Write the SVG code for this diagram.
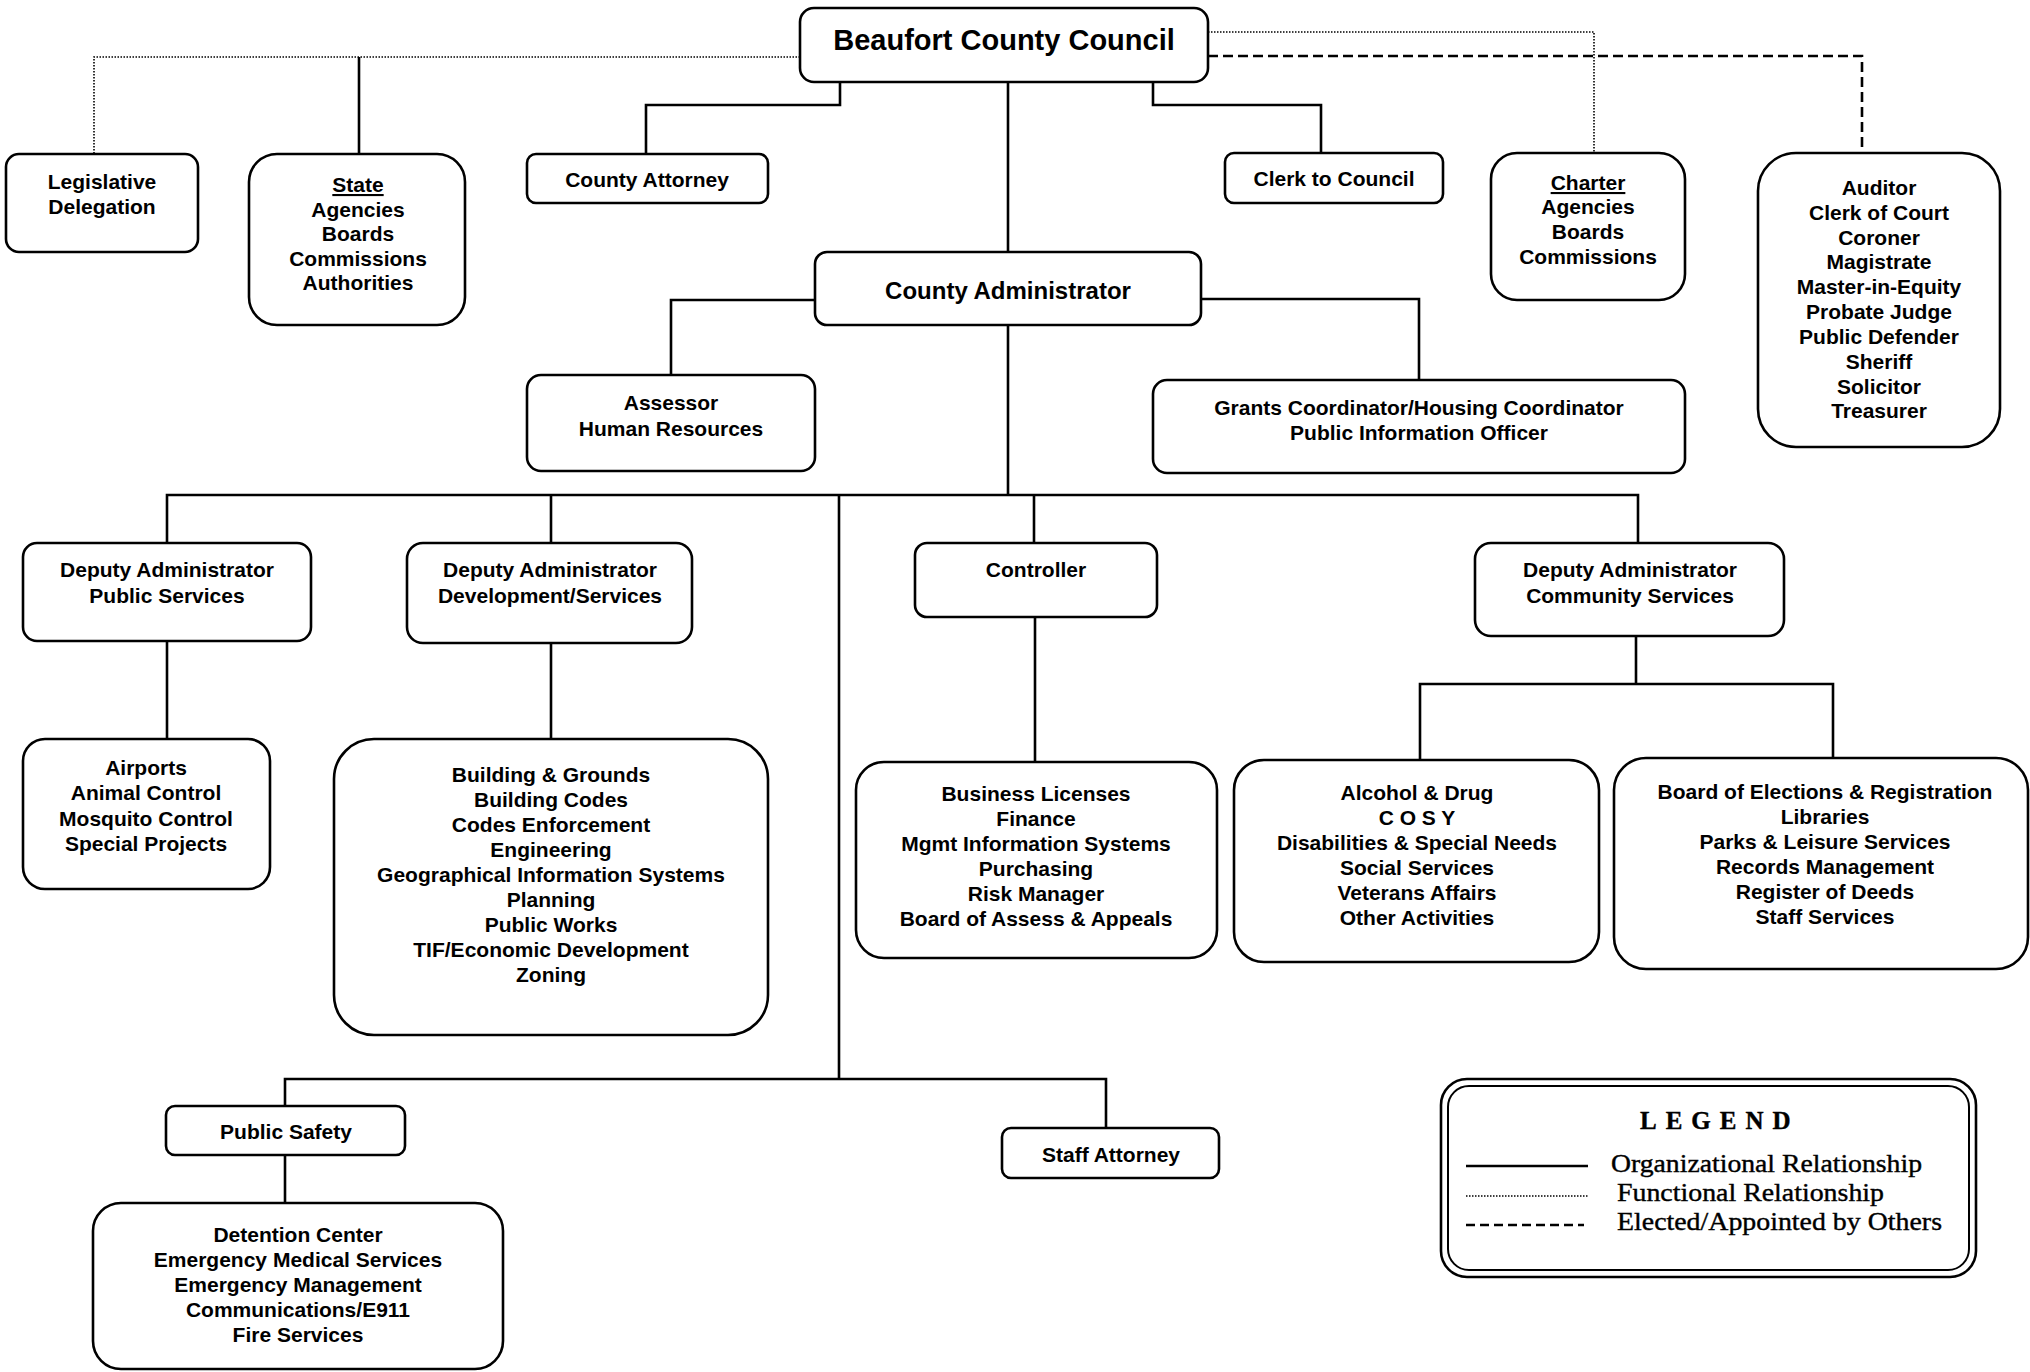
<svg xmlns="http://www.w3.org/2000/svg" width="2030" height="1372" viewBox="0 0 2030 1372">
<style>
.box{fill:#fff;stroke:#000;stroke-width:2.6}
.t{font-family:"Liberation Sans",Arial,sans-serif;font-weight:bold;font-size:21px;text-anchor:middle;fill:#000}
.org{fill:none;stroke:#000;stroke-width:2.6}
.fun{fill:none;stroke:#000;stroke-width:1.6;stroke-dasharray:1.5 1.5}
.elc{fill:none;stroke:#000;stroke-width:2.6;stroke-dasharray:10 5}
.lg{font-family:"Liberation Serif","Times New Roman",serif;font-size:26px;fill:#000;stroke:#000;stroke-width:0.4}
</style>
<rect width="2030" height="1372" fill="#fff"/>
<g id="connectors">
<path class="fun" d="M800 57H94V154"/>
<path class="fun" d="M1208 32H1594V153"/>
<path class="elc" d="M1208 56H1862V153"/>
<path class="org" d="M359 57V154"/>
<path class="org" d="M840 82V105H646V154"/>
<path class="org" d="M1153 82V105H1321V153"/>
<path class="org" d="M1008 82V252"/>
<path class="org" d="M1008 325V495"/>
<path class="org" d="M815 300H671V375"/>
<path class="org" d="M1201 299H1419V380"/>
<path class="org" d="M167 543V495H1638V543"/>
<path class="org" d="M551 495V543"/>
<path class="org" d="M1034 495V543"/>
<path class="org" d="M839 495V1079"/>
<path class="org" d="M167 641V739"/>
<path class="org" d="M551 643V739"/>
<path class="org" d="M1035 617V762"/>
<path class="org" d="M1636 636V684"/>
<path class="org" d="M1420 760V684H1833V758"/>
<path class="org" d="M285 1106V1079H1106V1128"/>
<path class="org" d="M285 1155V1203"/>
</g>
<g id="council"><rect class="box" x="800" y="8" width="408" height="74" rx="14"/><text class="t" x="1004" y="50" style="font-size:29px">Beaufort County Council</text></g>
<g id="legislative"><rect class="box" x="6" y="154" width="192" height="98" rx="13"/><text class="t" x="102" y="189">Legislative</text><text class="t" x="102" y="214">Delegation</text></g>
<g id="state"><rect class="box" x="249" y="154" width="216" height="171" rx="28"/><text class="t" x="358" y="192" text-decoration="underline">State</text><text class="t" x="358" y="217">Agencies</text><text class="t" x="358" y="241">Boards</text><text class="t" x="358" y="266">Commissions</text><text class="t" x="358" y="290">Authorities</text></g>
<g id="county-attorney"><rect class="box" x="527" y="154" width="241" height="49" rx="9"/><text class="t" x="647" y="187">County Attorney</text></g>
<g id="clerk"><rect class="box" x="1225" y="153" width="218" height="50" rx="9"/><text class="t" x="1334" y="186">Clerk to Council</text></g>
<g id="charter"><rect class="box" x="1491" y="153" width="194" height="147" rx="26"/><text class="t" x="1588" y="190" text-decoration="underline">Charter</text><text class="t" x="1588" y="214">Agencies</text><text class="t" x="1588" y="239">Boards</text><text class="t" x="1588" y="264">Commissions</text></g>
<g id="elected"><rect class="box" x="1758" y="153" width="242" height="294" rx="38"/>
<text class="t" x="1879" y="195">Auditor</text><text class="t" x="1879" y="220">Clerk of Court</text><text class="t" x="1879" y="245">Coroner</text><text class="t" x="1879" y="269">Magistrate</text><text class="t" x="1879" y="294">Master-in-Equity</text><text class="t" x="1879" y="319">Probate Judge</text><text class="t" x="1879" y="344">Public Defender</text><text class="t" x="1879" y="369">Sheriff</text><text class="t" x="1879" y="394">Solicitor</text><text class="t" x="1879" y="418">Treasurer</text></g>
<g id="administrator"><rect class="box" x="815" y="252" width="386" height="73" rx="12"/><text class="t" x="1008" y="299" style="font-size:24px">County Administrator</text></g>
<g id="assessor"><rect class="box" x="527" y="375" width="288" height="96" rx="14"/><text class="t" x="671" y="410">Assessor</text><text class="t" x="671" y="436">Human Resources</text></g>
<g id="grants"><rect class="box" x="1153" y="380" width="532" height="93" rx="14"/><text class="t" x="1419" y="415">Grants Coordinator/Housing Coordinator</text><text class="t" x="1419" y="440">Public Information Officer</text></g>
<g id="deputy-public"><rect class="box" x="23" y="543" width="288" height="98" rx="14"/><text class="t" x="167" y="577">Deputy Administrator</text><text class="t" x="167" y="603">Public Services</text></g>
<g id="deputy-development"><rect class="box" x="407" y="543" width="285" height="100" rx="16"/><text class="t" x="550" y="577">Deputy Administrator</text><text class="t" x="550" y="603">Development/Services</text></g>
<g id="controller"><rect class="box" x="915" y="543" width="242" height="74" rx="12"/><text class="t" x="1036" y="577">Controller</text></g>
<g id="deputy-community"><rect class="box" x="1475" y="543" width="309" height="93" rx="16"/><text class="t" x="1630" y="577">Deputy Administrator</text><text class="t" x="1630" y="603">Community Services</text></g>
<g id="public-services-units"><rect class="box" x="23" y="739" width="247" height="150" rx="22"/><text class="t" x="146" y="775">Airports</text><text class="t" x="146" y="800">Animal Control</text><text class="t" x="146" y="826">Mosquito Control</text><text class="t" x="146" y="851">Special Projects</text></g>
<g id="development-units"><rect class="box" x="334" y="739" width="434" height="296" rx="40"/>
<text class="t" x="551" y="782">Building &amp; Grounds</text><text class="t" x="551" y="807">Building Codes</text><text class="t" x="551" y="832">Codes Enforcement</text><text class="t" x="551" y="857">Engineering</text><text class="t" x="551" y="882">Geographical Information Systems</text><text class="t" x="551" y="907">Planning</text><text class="t" x="551" y="932">Public Works</text><text class="t" x="551" y="957">TIF/Economic Development</text><text class="t" x="551" y="982">Zoning</text></g>
<g id="controller-units"><rect class="box" x="856" y="762" width="361" height="196" rx="28"/>
<text class="t" x="1036" y="801">Business Licenses</text><text class="t" x="1036" y="826">Finance</text><text class="t" x="1036" y="851">Mgmt Information Systems</text><text class="t" x="1036" y="876">Purchasing</text><text class="t" x="1036" y="901">Risk Manager</text><text class="t" x="1036" y="926">Board of Assess &amp; Appeals</text></g>
<g id="community-units-1"><rect class="box" x="1234" y="760" width="365" height="202" rx="30"/>
<text class="t" x="1417" y="800">Alcohol &amp; Drug</text><text class="t" x="1417" y="825">C O S Y</text><text class="t" x="1417" y="850">Disabilities &amp; Special Needs</text><text class="t" x="1417" y="875">Social Services</text><text class="t" x="1417" y="900">Veterans Affairs</text><text class="t" x="1417" y="925">Other Activities</text></g>
<g id="community-units-2"><rect class="box" x="1614" y="758" width="414" height="211" rx="32"/>
<text class="t" x="1825" y="799">Board of Elections &amp; Registration</text><text class="t" x="1825" y="824">Libraries</text><text class="t" x="1825" y="849">Parks &amp; Leisure Services</text><text class="t" x="1825" y="874">Records Management</text><text class="t" x="1825" y="899">Register of Deeds</text><text class="t" x="1825" y="924">Staff Services</text></g>
<g id="public-safety"><rect class="box" x="166" y="1106" width="239" height="49" rx="9"/><text class="t" x="286" y="1139">Public Safety</text></g>
<g id="public-safety-units"><rect class="box" x="93" y="1203" width="410" height="166" rx="28"/>
<text class="t" x="298" y="1242">Detention Center</text><text class="t" x="298" y="1267">Emergency Medical Services</text><text class="t" x="298" y="1292">Emergency Management</text><text class="t" x="298" y="1317">Communications/E911</text><text class="t" x="298" y="1342">Fire Services</text></g>
<g id="staff-attorney"><rect class="box" x="1002" y="1128" width="217" height="50" rx="9"/><text class="t" x="1111" y="1162">Staff Attorney</text></g>
<g id="legend">
<rect x="1441" y="1079" width="535" height="198" rx="26" fill="#fff" stroke="#000" stroke-width="2.6"/>
<rect x="1448" y="1086" width="521" height="184" rx="21" fill="none" stroke="#000" stroke-width="2"/>
<text class="lg" x="1640" y="1129" style="letter-spacing:9px;font-size:25px;font-weight:bold">LEGEND</text>
<line class="org" x1="1466" y1="1166" x2="1588" y2="1166"/>
<line class="fun" x1="1466" y1="1196" x2="1588" y2="1196"/>
<line class="elc" x1="1466" y1="1225" x2="1584" y2="1225" style="stroke-dasharray:9 5"/>
<text class="lg" x="1611" y="1172" textLength="311" lengthAdjust="spacingAndGlyphs">Organizational Relationship</text>
<text class="lg" x="1617" y="1201" textLength="267" lengthAdjust="spacingAndGlyphs">Functional Relationship</text>
<text class="lg" x="1617" y="1230" textLength="325" lengthAdjust="spacingAndGlyphs">Elected/Appointed by Others</text>
</g>
</svg>
